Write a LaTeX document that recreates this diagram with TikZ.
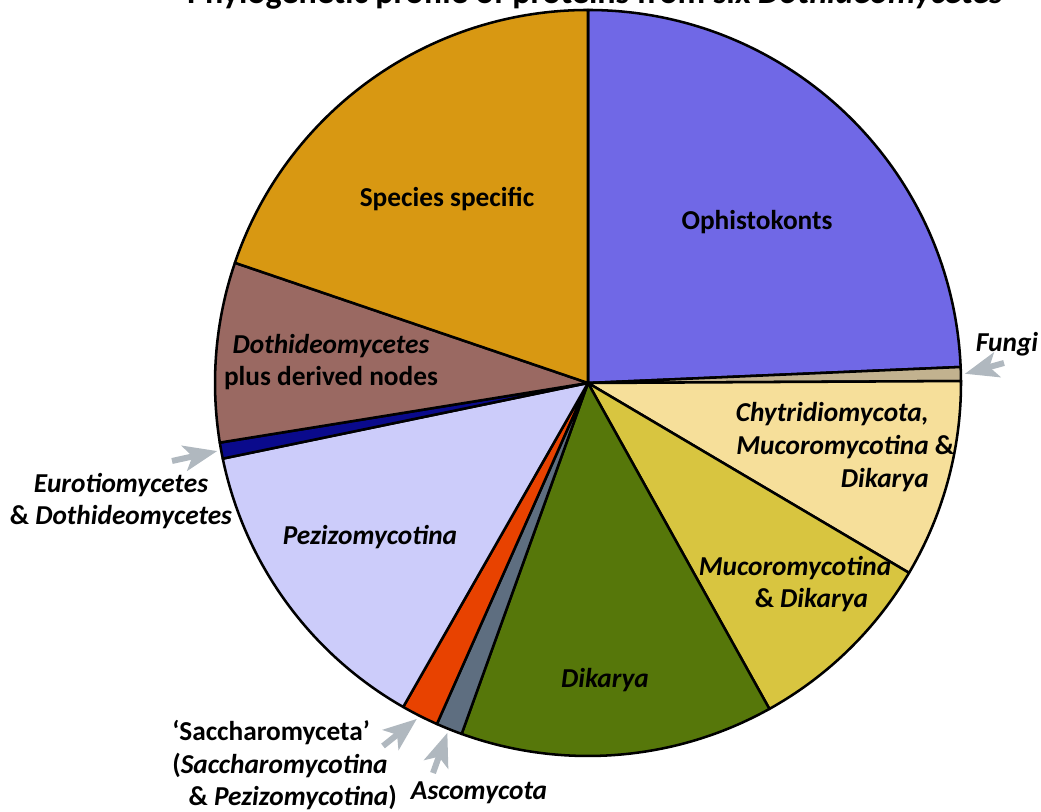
\documentclass[tikz,border=0pt]{standalone}
\usepackage{fontspec}
\setmainfont{Carlito}
\usetikzlibrary{arrows.meta}
\definecolor{cOph}{RGB}{112,104,230}
\definecolor{cFun}{RGB}{194,178,143}
\definecolor{cChy}{RGB}{246,223,154}
\definecolor{cMuc}{RGB}{216,197,64}
\definecolor{cDik}{RGB}{86,119,10}
\definecolor{cAsc}{RGB}{94,110,128}
\definecolor{cSac}{RGB}{232,66,0}
\definecolor{cPez}{RGB}{204,204,250}
\definecolor{cEur}{RGB}{10,10,140}
\definecolor{cDot}{RGB}{154,105,98}
\definecolor{cSpe}{RGB}{216,152,18}
\definecolor{cArr}{RGB}{176,184,191}
\tikzset{
  slice/.style={draw=black,line width=1.9pt,line join=round},
  lab/.style={font=\fontsize{20.5}{24.5}\selectfont\bfseries,align=center,inner sep=0pt},
  pointer/.style={draw=cArr,line width=4.5pt,-{Stealth[length=25pt,width=19pt,inset=6pt]}},
}
\newcommand{\pieslice}[3]{%
  \filldraw[slice,fill=#3] (C) -- (#1:373) arc[start angle=#1,end angle=#2,radius=373] -- cycle;}
\begin{document}
\begin{tikzpicture}[x=0.75pt,y=0.75pt]
\useasboundingbox (0,0) rectangle (1041,812);
\begin{scope}[shift={(588,429)}]
\coordinate (C) at (0,0);
\pieslice{90}{2.46}{cOph}
\pieslice{2.46}{0.3}{cFun}
\pieslice{0.3}{-30.6}{cChy}
\pieslice{-30.6}{-60.9}{cMuc}
\pieslice{-60.9}{-109.8}{cDik}
\pieslice{-109.8}{-113.9}{cAsc}
\pieslice{-113.9}{-119.7}{cSac}
\pieslice{-119.7}{-168.3}{cPez}
\pieslice{-168.3}{-170.8}{cEur}
\pieslice{-170.8}{-198.8}{cDot}
\pieslice{-198.8}{-270}{cSpe}
\coordinate (rimFun) at (1.4:377);
\coordinate (rimEur) at (-169.6:377);
\coordinate (rimSac) at (-117:377);
\coordinate (rimAsc) at (-111.9:377);
\end{scope}
% title (cut off by the top edge, as in the reference)
\node[anchor=base,inner sep=0pt,font=\fontsize{25.5}{30}\selectfont\bfseries] (title) at (595,808) {Phylogenetic profile of proteins from six \textit{Dothideomycetes}};
% labels inside
\node[lab] (oph) at (757,590) {Ophistokonts};
\node[lab] (spe) at (447,613) {Species specific};
\node[lab] (dot) at (331,450) {\textit{Dothideomycetes}\\plus derived nodes};
\node[lab] (pez) at (370,275) {\textit{Pezizomycotina}};
\node[lab] (dik) at (605,132) {\textit{Dikarya}};
\node[lab] (muc) at (795,228) {\textit{Mucoromycotina}\\\hspace*{1.2em}\& \textit{Dikarya}};
\node[lab,align=right,anchor=east] (chy) at (929,365) {\textit{Chytridiomycota,}\\\textit{Mucoromycotina}\rlap{ \&}\\\textit{Dikarya}};
% outside labels
\node[lab] (fun) at (1007,468) {\textit{Fungi}};
\node[lab] (eur) at (121,311) {\textit{Eurotiomycetes}\\\& \textit{Dothideomycetes}};
\node[lab,align=left,anchor=north west] (sac) at (172,92) {`Saccharomyceta'\\(\textit{Saccharomycotina}\\\hspace*{0.6em}\& \textit{Pezizomycotina})};
\node[lab] (asc) at (479,19) {\textit{Ascomycota}};
% pointers
\coordinate (tFun) at (1004,449);
\coordinate (tEur) at (172,351);
\coordinate (tSac) at (383,66);
\coordinate (tAsc) at (433,39);
\draw[pointer] (tFun) -- (rimFun);
\draw[pointer] (tEur) -- (rimEur);
\draw[pointer] (tSac) -- (rimSac);
\draw[pointer] (tAsc) -- (rimAsc);
\end{tikzpicture}
\end{document}
